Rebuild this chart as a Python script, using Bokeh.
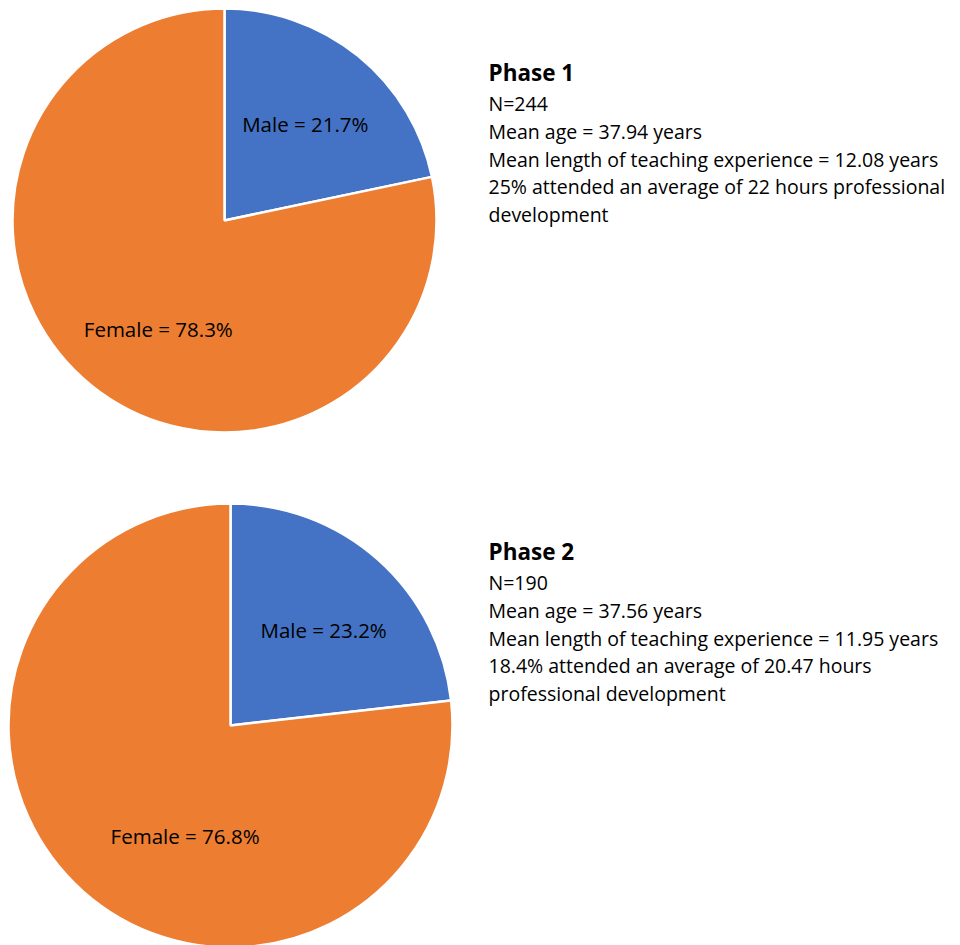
import math
from bokeh.plotting import figure
from bokeh.models import Range1d, ColumnDataSource
from bokeh.core.properties import value
from bokeh.embed import file_html
from bokeh.resources import INLINE

# ---- data ----
phases = ["Phase 1", "Phase 2"]
categories = ["Male", "Female"]
male_pct = [21.7, 23.2]
female_pct = [78.3, 76.8]
n_values = [244, 190]
mean_age = [37.94, 37.56]
mean_experience = [12.08, 11.95]
pd_attended = ["25%", "18.4%"]
pd_hours = ["22", "20.47"]

colors = {"Male": "#4472C4", "Female": "#ED7D31"}
FONT = "Open Sans"

# ---- layout (screen pixels; data y = 945 - screen y) ----
W, H = 960, 945
def sy(v):
    return 945 - v

pie_centers = [(224, 220), (230, 725)]
pie_radius = [212, 222]
# label placement: (angle offset from slice mid in degrees, fraction of radius)
label_pos = [
    {"Male": (-0.8, 0.595), "Female": (7.7, 0.60)},
    {"Male": (-2.6, 0.60), "Female": (19.5, 0.54)},
]
text_x = 488
text_tops = [72, 551]
line_gap = 27.8

p = figure(width=W, height=H, output_backend="svg", toolbar_location=None,
           x_range=Range1d(0, W), y_range=Range1d(sy(H), sy(0)),
           min_border=0, background_fill_color="white", border_fill_color="white")
p.axis.visible = False
p.grid.visible = False
p.outline_line_color = None

for i, ph in enumerate(phases):
    cx, cy = pie_centers[i]
    r = pie_radius[i]
    vals = {"Male": male_pct[i], "Female": female_pct[i]}
    # start at 12 o'clock, proceed clockwise: Male then Female
    start = 90.0
    for cat in categories:
        sweep = vals[cat] / 100.0 * 360.0
        end_cw = start - sweep
        a0, a1 = math.radians(end_cw), math.radians(start)
        src = ColumnDataSource(dict(x=[cx], y=[sy(cy)], s=[a0], e=[a1]))
        p.wedge(x="x", y="y", radius=r, start_angle="s", end_angle="e", source=src,
                fill_color=colors[cat], line_color="white", line_width=2.5)
        mid = (start + end_cw) / 2.0
        dang, frac = label_pos[i][cat]
        ang = math.radians(mid + dang)
        lx = cx + frac * r * math.cos(ang)
        ly = sy(cy) + frac * r * math.sin(ang)
        p.text(x=[lx], y=[ly], text=[f"{cat} = {vals[cat]}%"], text_font=value(FONT),
               text_font_size="20.5px", text_align="center", text_baseline="middle",
               text_color="black")
        start = end_cw

    lines = [f"N={n_values[i]}", f"Mean age = {mean_age[i]:.2f} years",
             f"Mean length of teaching experience = {mean_experience[i]:.2f} years"]
    if i == 0:
        lines += [f"{pd_attended[i]} attended an average of {pd_hours[i]} hours professional",
                  "development"]
    else:
        lines += [f"{pd_attended[i]} attended an average of {pd_hours[i]} hours",
                  "professional development"]
    top = text_tops[i]
    p.text(x=[text_x], y=[sy(top)], text=[ph], text_font=value(FONT),
           text_font_size="22.5px", text_font_style="bold", text_align="left",
           text_baseline="middle", text_color="black")
    for k, ln in enumerate(lines):
        p.text(x=[text_x], y=[sy(top + 31 + k * line_gap)], text=[ln], text_font=value(FONT),
               text_font_size="19.5px", text_align="left", text_baseline="middle",
               text_color="black")

open("out.html", "w").write(file_html(p, INLINE))
